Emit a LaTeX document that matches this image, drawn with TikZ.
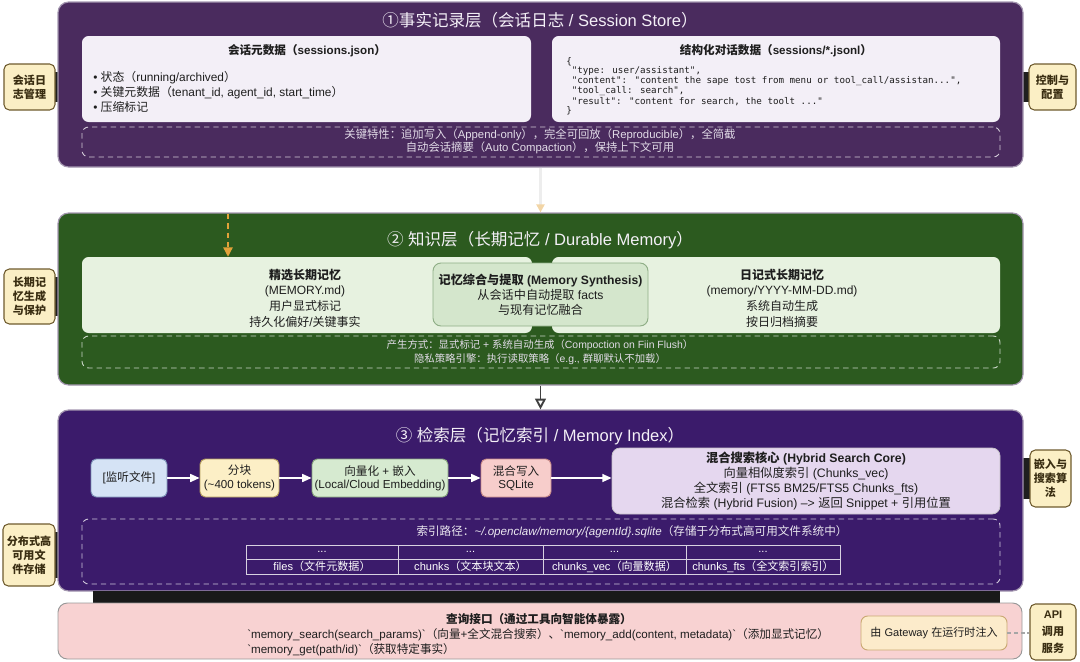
\documentclass[tikz,border=0pt]{standalone}
\usepackage{fontspec}
\setmainfont{Liberation Sans}[Ligatures=TeXOff]
\newfontfamily\latinfont{Liberation Sans}[Ligatures=TeXOff]
\newfontfamily\cjkfont{Noto Sans CJK SC}
\newfontfamily\jsonfont{DejaVu Sans Mono}
\usetikzlibrary{fit,arrows.meta}

\XeTeXinterchartokenstate=1
\newXeTeXintercharclass\CJKcls
\newcount\cjkc
\def\cjkrange#1#2{\cjkc=#1\relax\loop\XeTeXcharclass\cjkc=\CJKcls\relax\ifnum\cjkc<#2\relax\advance\cjkc by 1\repeat}
\cjkrange{"4E00}{"9FFF}
\cjkrange{"3000}{"303F}
\cjkrange{"FF00}{"FFEF}
\cjkrange{"2460}{"24FF}
\XeTeXinterchartoks 0 \CJKcls = {\cjkfont}
\XeTeXinterchartoks 4095 \CJKcls = {\cjkfont}
\XeTeXinterchartoks \CJKcls 0 = {\latinfont}
\XeTeXinterchartoks \CJKcls 4095 = {\latinfont}

\definecolor{Lone}{HTML}{4A2B5E}
\definecolor{Ltwo}{HTML}{2C5A1F}
\definecolor{Lthree}{HTML}{3B1B6B}
\definecolor{Lborder}{HTML}{A497B0}
\definecolor{Ione}{HTML}{F3EFF7}
\definecolor{Itwo}{HTML}{E7F2E0}
\definecolor{synth}{HTML}{D4E6CC}
\definecolor{synthd}{HTML}{8FAE86}
\definecolor{hyb}{HTML}{E5D7EF}
\definecolor{pinkbox}{HTML}{F8D2D2}
\definecolor{labf}{HTML}{FBEFC5}
\definecolor{labd}{HTML}{6E5B2E}
\definecolor{labt}{HTML}{3A2E12}
\definecolor{pblue}{HTML}{D5E3F5}
\definecolor{pblued}{HTML}{7E94B8}
\definecolor{pyel}{HTML}{FCEFC6}
\definecolor{pyeld}{HTML}{B59E5E}
\definecolor{pgreen}{HTML}{D6EAD0}
\definecolor{pgreend}{HTML}{86A47C}
\definecolor{ppink}{HTML}{F7CDCB}
\definecolor{ppinkd}{HTML}{C98B88}
\definecolor{gwf}{HTML}{FCEBCB}
\definecolor{gwd}{HTML}{C9A872}
\definecolor{orarr}{HTML}{E3A23A}
\definecolor{titlec}{HTML}{F4F0F7}
\definecolor{dtextc}{HTML}{E2DCE8}
\definecolor{ink}{HTML}{1E1E1E}

\tikzset{
  lay/.style={draw=Lborder, fill=#1, line width=0.9pt, rounded corners=8pt, inner sep=0pt},
  inbox/.style={fill=#1, draw=none, rounded corners=5pt, inner sep=0pt},
  dbox/.style={draw=#1, dash pattern=on 4pt off 3pt, line width=0.7pt, rounded corners=5pt, inner sep=0pt},
  lab/.style={fill=labf, draw=labd, line width=0.8pt, rounded corners=4pt, inner sep=0pt},
  labtxt/.style={text=labt, font=\bfseries\fontsize{8.3}{10.5}\selectfont, align=center, inner sep=0pt},
  tab/.style={fill=black!88},
  ttl/.style={text=titlec, font=\fontsize{12.4}{14}\selectfont, inner sep=0pt},
  hd/.style={text=ink, font=\bfseries\fontsize{8.7}{10}\selectfont, inner sep=0pt},
  bul/.style={text=ink, font=\fontsize{8.9}{11.2}\selectfont, align=left, inner sep=0pt},
  json/.style={text=ink, font=\jsonfont\fontsize{6.9}{6.5}\selectfont, align=left, inner sep=0pt},
  dtxt/.style={text=dtextc, font=\fontsize{8.5}{10}\selectfont, align=center, inner sep=0pt},
  mtxt/.style={text=ink, font=\fontsize{9}{11.8}\selectfont, align=center, inner sep=0pt},
  pbox/.style={fill=#1, draw=#1d, line width=0.7pt, rounded corners=4pt, inner sep=0pt},
  ptxt/.style={text=ink, font=\fontsize{8.7}{10}\selectfont, align=center, inner sep=0pt},
  warr/.style={white, line width=1.2pt, -{Triangle[length=7pt,width=6pt]}},
  cell/.style={draw=white!80!Lthree, line width=0.6pt, inner sep=0pt},
  celltxt/.style={text=white, font=\fontsize{8.3}{9}\selectfont, inner sep=0pt},
  qtxt/.style={text=ink, font=\fontsize{8.7}{10}\selectfont, inner sep=0pt},
}

\begin{document}
\begin{tikzpicture}[x=0.75pt,y=-0.75pt]
\useasboundingbox (0,0) rectangle (1080,661);

% ---------- tabs between side labels and layers
\fill[tab] (50,72) rectangle (60,102);
\fill[tab] (1020,72) rectangle (1032,102);
\fill[tab] (50,277) rectangle (60,316);
\fill[tab] (1020,458) rectangle (1033,499);
\fill[tab] (50,532) rectangle (60,578);

% ---------- layer 1
\node[lay=Lone, fit={(58,2)(1023,167)}] (L1) {};
\node[ttl] (T1) at (540,20) {①事实记录层（会话日志 / Session Store）};
\node[inbox=Ione, fit={(82,36)(531,122)}] (B1a) {};
\node[inbox=Ione, fit={(552,36)(1000,122)}] (B1b) {};
\node[hd] (H1a) at (307,51) {会话元数据（sessions.json）};
\node[bul, anchor=west] (U1a) at (93,92) {• 状态（running/archived）\\• 关键元数据（tenant\_id, agent\_id, start\_time）\\• 压缩标记};
\node[hd] (H1b) at (776,51) {结构化对话数据（sessions/*.jsonl）};
\node[json, anchor=west] (J1b) at (566,86) {\{\\
\ "type: user/assistant",\\
\ "content": "content the sape tost from menu or tool\_call/assistan...",\\
\ "tool\_call: search",\\
\ "result": "content for search, the toolt ..."\\
\}};
\node[dbox=white!75!Lone, fit={(82,127)(1000,157)}] (D1) {};
\node[dtxt] (DT1) at (540,141) {关键特性：追加写入（Append-only），完全可回放（Reproducible），全简截\\自动会话摘要（Auto Compaction），保持上下文可用};
\node[lab, fit={(4,64)(55,110)}] (S1l) {};
\node[labtxt] (S1lt) at (S1l.center) {会话日\\志管理};
\node[lab, fit={(1029,64)(1076,110)}] (S1r) {};
\node[labtxt] (S1rt) at (S1r.center) {控制与\\配置};

% ---------- layer 2
\node[lay=Ltwo, fit={(58,213)(1023,385)}] (L2) {};
\node[ttl] (T2) at (540,240) {② 知识层（长期记忆 / Durable Memory）};
\node[inbox=Itwo, fit={(82,257)(532,333)}] (B2a) {};
\node[inbox=Itwo, fit={(552,257)(1000,333)}] (B2b) {};
\node[mtxt] (M2a) at (305,298) {\textbf{精选长期记忆}\\(MEMORY.md)\\用户显式标记\\持久化偏好/关键事实};
\node[mtxt] (M2b) at (782,298) {\textbf{日记式长期记忆}\\(memory/YYYY-MM-DD.md)\\系统自动生成\\按日归档摘要};
\node[fill=synth, draw=synthd, line width=0.7pt, rounded corners=6pt, inner sep=0pt,
  fit={(433,263)(648,326)}] (SY) {};
\node[text=ink, font=\fontsize{9.1}{11.2}\selectfont, align=center, inner sep=0pt] (SYt) at (SY.center)
  {\textbf{记忆综合与提取 (Memory Synthesis)}\\从会话中自动提取 facts\\与现有记忆融合};
\node[dbox=white!75!Ltwo, fit={(82,336)(1000,368)}] (D2) {};
\node[dtxt, font=\fontsize{7.8}{10}\selectfont] (DT2) at (540,352) {产生方式：显式标记 + 系统自动生成（Compoction on Fiin Flush）\\隐私策略引擎：执行读取策略（e.g., 群聊默认不加载）};
\node[lab, fit={(4,269)(55,324)}] (S2l) {};
\node[labtxt] (S2lt) at (S2l.center) {长期记\\忆生成\\与保护};
\coordinate (OA) at (228,214);
\draw[orarr, dash pattern=on 4pt off 3pt, line width=1pt, -{Triangle[length=7pt,width=7pt]}] (OA) -- (OA |- B2a.north);

% ---------- layer 3
\node[lay=Lthree, fit={(58,410)(1023,591)}] (L3) {};
\node[ttl] (T3) at (540,436) {③ 检索层（记忆索引 / Memory Index）};
\node[pbox=pblue, fit={(91,459)(167,497)}] (P1) {};
\node[pbox=pyel, fit={(200,459)(279,497)}] (P2) {};
\node[pbox=pgreen, fit={(312,459)(448,497)}] (P3) {};
\node[pbox=ppink, fit={(481,459)(551,497)}] (P4) {};
\node[ptxt] (P1t) at (P1.center) {[监听文件]};
\node[ptxt] (P2t) at (P2.center) {分块\\(\textasciitilde400 tokens)};
\node[ptxt] (P3t) at (P3.center) {向量化 + 嵌入\\(Local/Cloud Embedding)};
\node[ptxt] (P4t) at (P4.center) {混合写入\\SQLite};
\node[fill=hyb, draw=white!70!hyb!80!black, line width=0.6pt, rounded corners=6pt, inner sep=0pt,
  fit={(612,448)(1000,514)}] (HY) {};
\node[text=ink, font=\fontsize{9.2}{11.2}\selectfont, align=center, inner sep=0pt] (HYt) at (HY.center)
  {\textbf{混合搜索核心 (Hybrid Search Core)}\\向量相似度索引 (Chunks\_vec)\\全文索引 (FTS5 BM25/FTS5 Chunks\_fts)\\混合检索 (Hybrid Fusion) –> 返回 Snippet + 引用位置};
\draw[warr] (P1) -- (P2);
\draw[warr] (P2) -- (P3);
\draw[warr] (P3) -- (P4);
\draw[warr] (P4.east) -- (P4.east -| HY.west);
\node[dbox=white!75!Lthree, fit={(82,519)(1000,584)}] (D3) {};
\node[dtxt, text=white!90!Lthree, font=\fontsize{8.7}{10}\selectfont] (DT3) at (632,532) {索引路径：\textit{\textasciitilde/.openclaw/memory/\{agentId\}.sqlite}（存储于分布式高可用文件系统中）};
\node[cell, fit={(246,545)(398,559)}] (C11) {};
\node[cell, fit={(398,545)(543,559)}] (C12) {};
\node[cell, fit={(543,545)(686,559)}] (C13) {};
\node[cell, fit={(686,545)(840,559)}] (C14) {};
\node[cell, fit={(246,559)(398,574)}] (C21) {};
\node[cell, fit={(398,559)(543,574)}] (C22) {};
\node[cell, fit={(543,559)(686,574)}] (C23) {};
\node[cell, fit={(686,559)(840,574)}] (C24) {};
\node[celltxt] (C11t) at (C11.center) {...};
\node[celltxt] (C12t) at (C12.center) {...};
\node[celltxt] (C13t) at (C13.center) {...};
\node[celltxt] (C14t) at (C14.center) {...};
\node[celltxt] (C21t) at (C21.center) {files（文件元数据）};
\node[celltxt] (C22t) at (C22.center) {chunks（文本块文本）};
\node[celltxt] (C23t) at (C23.center) {chunks\_vec（向量数据）};
\node[celltxt] (C24t) at (C24.center) {chunks\_fts（全文索引索引）};
\node[lab, fit={(1030,450)(1071,507)}] (S3r) {};
\node[labtxt] (S3rt) at (S3r.center) {嵌入与\\搜索算\\法};
\node[lab, fit={(3,524)(55,586)}] (S3l) {};
\node[labtxt] (S3lt) at (S3l.center) {分布式高\\可用文\\件存储};

% ---------- layer connectors
\draw[line width=2pt, draw=black!7, -{Triangle[length=6pt,width=6pt,color=orarr!45]}] (L1) -- (L2);
\draw[line width=1.4pt, draw=black!75, -{Triangle[length=8pt,width=8pt,fill=white]}] (L2) -- (L3);

% ---------- bottom query interface
\fill[black!90] (93,591) rectangle (1000,603);
\node[fill=pinkbox, draw=black!40, line width=0.7pt, rounded corners=7pt, inner sep=0pt, fit={(58,603)(1022,659)}] (Q) {};
\node[qtxt, font=\bfseries\fontsize{8.7}{10}\selectfont] (QT) at (539,619) {查询接口（通过工具向智能体暴露）};
\node[qtxt, anchor=west] (Q2) at (247,635) {`memory\_search(search\_params)`（向量+全文混合搜索）、`memory\_add(content, metadata)`（添加显式记忆）};
\node[qtxt, anchor=west] (Q3) at (247,650) {`memory\_get(path/id)`（获取特定事实）};
\node[fill=gwf, draw=gwd, line width=0.7pt, rounded corners=5pt, inner sep=0pt, fit={(861,616)(1007,650)}] (GW) {};
\node[qtxt, font=\fontsize{8.3}{10}\selectfont] (GWt) at (GW.center) {由 Gateway 在运行时注入};
\node[lab, fit={(1030,604)(1076,660)}] (API) {};
\node[labtxt, font=\bfseries\fontsize{8.3}{12.8}\selectfont] (APIt) at (API.center) {API\\调用\\服务};
\draw[black!35, dash pattern=on 3pt off 2pt, line width=0.8pt] (GW.east) -- (GW.east -| API.west);
\end{tikzpicture}
\end{document}
